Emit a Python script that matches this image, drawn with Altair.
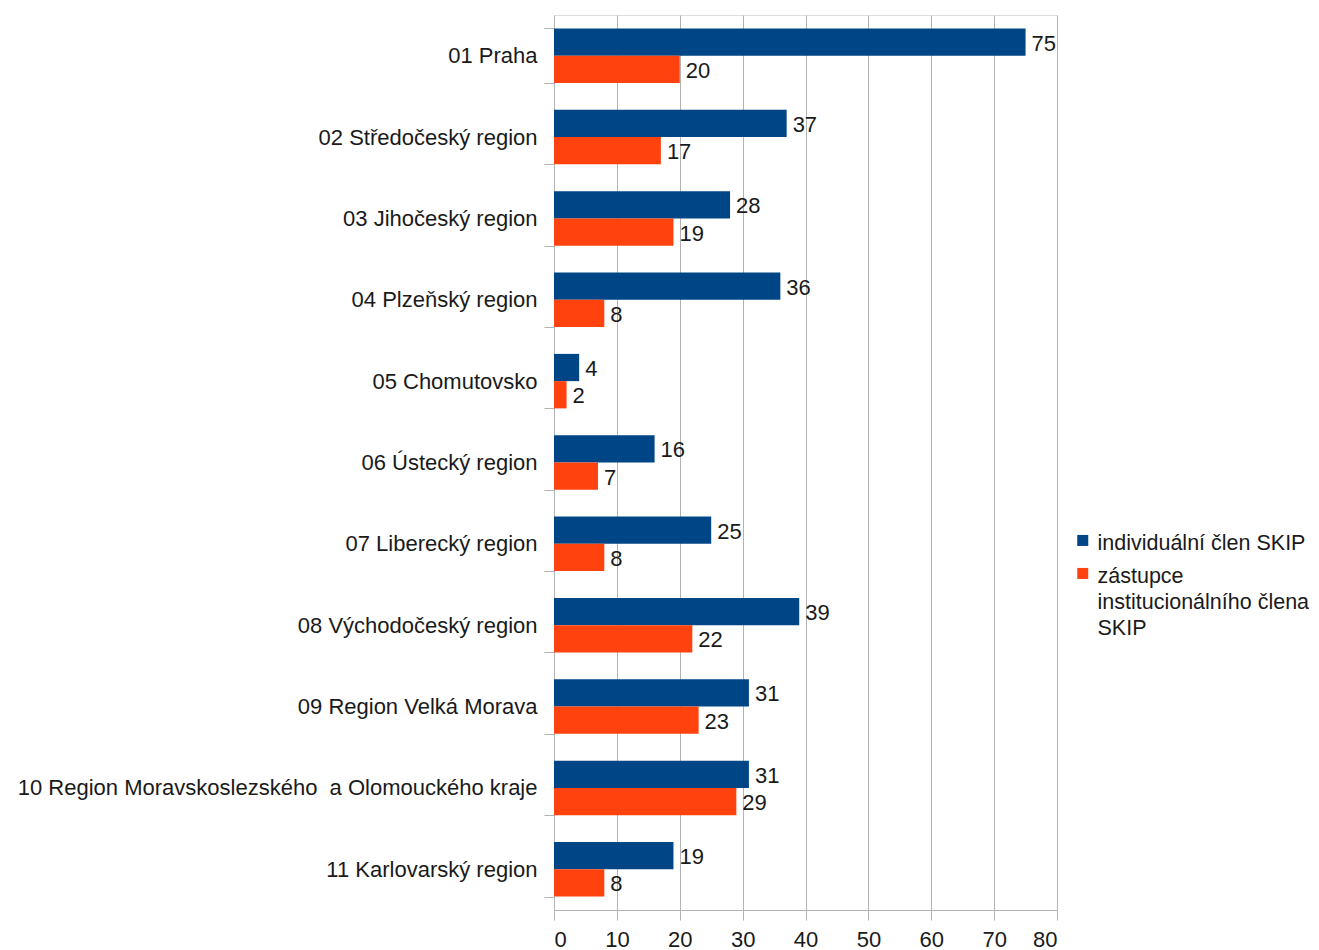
import altair as alt
import pandas as pd

regions = [
    "01 Praha",
    "02 Středočeský region",
    "03 Jihočeský region",
    "04 Plzeňský region",
    "05 Chomutovsko",
    "06 Ústecký region",
    "07 Liberecký region",
    "08 Východočeský region",
    "09 Region Velká Morava",
    "10 Region Moravskoslezského \u00a0a Olomouckého kraje",
    "11 Karlovarský region",
]
individual = [75, 37, 28, 36, 4, 16, 25, 39, 31, 31, 19]
institutional = [20, 17, 19, 8, 2, 7, 8, 22, 23, 29, 8]
series_names = ["individuální člen SKIP", "zástupce institucionálního člena SKIP"]
colors = ["#004586", "#ff420e"]
x_ticks = [0, 10, 20, 30, 40, 50, 60, 70, 80]

rows = []
for r, a, b in zip(regions, individual, institutional):
    rows.append({"region": r, "series": series_names[0], "value": a})
    rows.append({"region": r, "series": series_names[1], "value": b})
df = pd.DataFrame(rows)

FONT = "Liberation Sans"
FS = 22

y_enc = alt.Y(
    "region:N",
    sort=regions,
    scale=alt.Scale(paddingInner=0.33, paddingOuter=0.165),
    axis=alt.Axis(
        title=None,
        tickBand="extent",
        tickSize=10,
        tickColor="#b3b3b3",
        domain=False,
        labelPadding=7,
        labelFont=FONT,
        labelFontSize=FS,
        labelColor="#1a1a1a",
        labelLimit=800,
        grid=False,
    ),
)
yoff = alt.YOffset("series:N", sort=series_names, scale=alt.Scale(paddingInner=0, paddingOuter=0))
x_enc = alt.X(
    "value:Q",
    scale=alt.Scale(domain=[0, 80], nice=False),
    axis=alt.Axis(
        title=None,
        values=x_ticks,
        tickSize=10,
        tickColor="#b3b3b3",
        domainColor="#b3b3b3",
        gridColor="#b3b3b3",
        labelPadding=9,
        labelFont=FONT,
        labelFontSize=FS,
        labelColor="#1a1a1a",
    ),
)

label_expr = (
    "datum.label == 'zástupce institucionálního člena SKIP' ? "
    "['zástupce', 'institucionálního člena', 'SKIP'] : datum.label"
)

bars = alt.Chart(df).mark_bar().encode(
    y=y_enc,
    yOffset=yoff,
    x=x_enc,
    color=alt.Color(
        "series:N",
        scale=alt.Scale(domain=series_names, range=colors),
        legend=alt.Legend(
            title=None,
            orient="none",
            legendX=518,
            legendY=507,
            symbolType="M-1,0.4H1V2.4H-1Z",
            symbolSize=121,
            symbolStrokeWidth=0,
            labelFont=FONT,
            labelFontSize=21.5,
            labelColor="#1a1a1a",
            labelBaseline="top",
            labelLimit=400,
            labelOffset=4,
            labelExpr=label_expr,
            rowPadding=0,
        ),
    ),
)

texts = alt.Chart(df).mark_text(
    align="left", baseline="middle", dx=6, dy=1.5, font=FONT, fontSize=FS, color="#1a1a1a"
).encode(
    y=alt.Y("region:N", sort=regions),
    yOffset=alt.YOffset("series:N", sort=series_names),
    x=alt.X("value:Q"),
    text=alt.Text("value:Q"),
)

chart = (
    alt.layer(bars, texts)
    .properties(
        width=503,
        height=895,
        autosize=alt.AutoSizeParams(type="none"),
        padding={"left": 546, "top": 7, "right": 254, "bottom": 40},
    )
    .configure_view(stroke="#b3b3b3", strokeWidth=1)
    .configure(background="white", style={"guide-label": {"lineHeight": 26}})
)

chart.save("out.html", embed_options={"renderer": "svg", "actions": False})
